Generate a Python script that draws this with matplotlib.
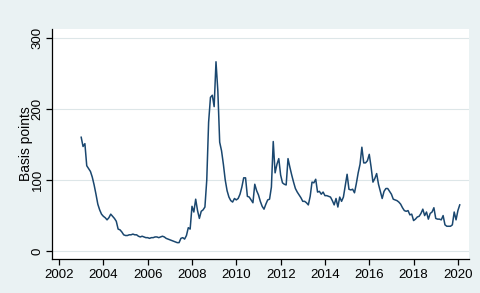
import numpy as np
import pandas as pd
import matplotlib
matplotlib.use("Agg")
import matplotlib.pyplot as plt

# monthly spread in basis points, Jan 2003 - Feb 2020
start = "2003-01-01"
spread = [
    # 2003
    160, 147, 151, 120, 116, 112, 104, 93, 80, 66, 58, 52,
    # 2004
    49, 47, 44, 47, 52, 49, 46, 42, 31, 30, 27, 23,
    # 2005
    22, 22, 23, 23, 24, 23, 23, 21, 20, 21, 20, 19,
    # 2006
    19, 18, 19, 19, 20, 20, 19, 20, 21, 20, 18, 17,
    # 2007
    16, 15, 14, 13, 12, 12, 18, 19, 17, 22, 33, 31,
    # 2008
    63, 55, 73, 57, 46, 56, 58, 62, 100, 181, 216, 219,
    # 2009
    203, 266, 225, 153, 141, 122, 100, 85, 76, 71, 69, 74,
    # 2010
    72, 74, 80, 90, 103, 103, 77, 76, 72, 68, 94, 85,
    # 2011
    79, 70, 63, 59, 66, 72, 73, 90, 154, 110, 122, 130,
    # 2012
    107, 96, 94, 93, 130, 118, 107, 97, 88, 83, 79, 75,
    # 2013
    70, 70, 68, 65, 77, 97, 96, 101, 83, 84, 80, 83,
    # 2014
    78, 78, 77, 76, 71, 65, 74, 62, 76, 70, 76, 92,
    # 2015
    108, 87, 86, 87, 82, 95, 110, 122, 146, 124, 124, 127,
    # 2016
    136, 118, 97, 102, 109, 94, 84, 74, 84, 88, 88, 84,
    # 2017
    80, 73, 72, 71, 69, 66, 61, 57, 56, 57, 51, 52,
    # 2018
    43, 45, 48, 49, 53, 59, 50, 55, 45, 53, 55, 61,
    # 2019
    46, 45, 45, 44, 50, 37, 35, 35, 35, 37, 55, 44,
    # 2020
    57, 65,
]

year_ticks = list(range(2002, 2021, 2))
y_ticks = [0, 100, 200, 300]

dates = pd.date_range(start, periods=len(spread), freq="MS")
t = dates.year + (dates.month - 1) / 12

bg = "#EAF2F3"
navy = "#1A476F"

fig = plt.figure(figsize=(4.81, 2.93), dpi=100, facecolor=bg)
ax = fig.add_axes([0.108, 0.116, 0.867, 0.785])
ax.set_facecolor("white")

ax.plot(t, spread, color=navy, lw=1.1)

ax.set_xlim(2001.68, 2020.5)
ax.set_ylim(-11, 312)
ax.set_xticks(year_ticks)
ax.set_yticks(y_ticks)
ax.grid(axis="y", color="#DDE6E8", lw=0.8)
ax.set_axisbelow(True)

for s in ["top", "right"]:
    ax.spines[s].set_visible(False)
for s in ["left", "bottom"]:
    ax.spines[s].set_color("black")
    ax.spines[s].set_linewidth(0.9)

font = "Liberation Sans"
ax.tick_params(axis="both", length=4, width=0.9, color="black", labelsize=9.5)
ax.tick_params(axis="x", pad=3)
ax.tick_params(axis="y", pad=2)
for lab in ax.get_xticklabels():
    lab.set_fontfamily(font)
for lab in ax.get_yticklabels():
    lab.set_fontfamily(font)
    lab.set_rotation(90)
    lab.set_va("center")

ax.set_ylabel("Basis points", fontsize=10, fontfamily=font, labelpad=-1)

fig.savefig("out.png", dpi=100, facecolor=bg)
